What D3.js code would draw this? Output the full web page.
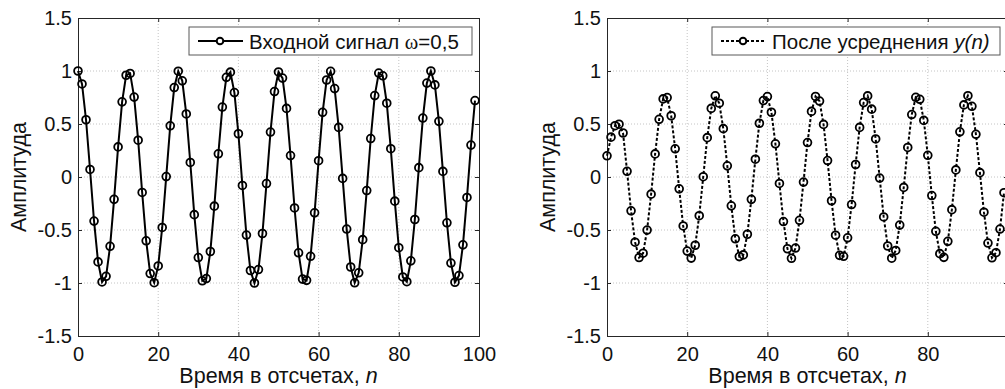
<!DOCTYPE html>
<html><head><meta charset="utf-8">
<script src="https://cdn.jsdelivr.net/npm/d3@7"></script>
<style>html,body{margin:0;padding:0;overflow:hidden;background:#fff}</style>
</head><body><svg id="chart" width="1005" height="389"></svg>
<script>
// Input signal x(n), n = 0..99
const inputSignal = [
 1.000, 0.878, 0.540, 0.071,-0.416,-0.801,-0.990,-0.937,-0.654,-0.211,
 0.284, 0.709, 0.960, 0.977, 0.754, 0.347,-0.146,-0.602,-0.911,-0.997,
-0.839,-0.476, 0.004, 0.483, 0.844, 0.998, 0.907, 0.595, 0.137,-0.355,
-0.760,-0.979,-0.958,-0.703,-0.275, 0.219, 0.660, 0.940, 0.989, 0.796,
 0.408,-0.080,-0.548,-0.882,-1.000,-0.873,-0.533,-0.062, 0.424, 0.806,
 0.991, 0.933, 0.647, 0.202,-0.292,-0.715,-0.963,-0.975,-0.748,-0.338,
 0.154, 0.610, 0.915, 0.997, 0.834, 0.468,-0.013,-0.491,-0.849,-0.998,
-0.904,-0.591,-0.128, 0.363, 0.768, 0.980, 0.955, 0.696, 0.267,-0.228,
-0.667,-0.943,-0.988,-0.791,-0.401, 0.088, 0.556, 0.886, 1.000, 0.869,
 0.525, 0.053,-0.432,-0.812,-0.993,-0.930,-0.640,-0.193, 0.301, 0.721
];
// Averaged output y(n), n = 0..99
const averagedSignal = [
 0.200, 0.376, 0.484, 0.498, 0.415, 0.054,-0.319,-0.615,-0.760,-0.719,
-0.501,-0.162, 0.218, 0.544, 0.737, 0.749, 0.578, 0.266,-0.112,-0.462,
-0.699,-0.765,-0.644,-0.365, 0.003, 0.371, 0.647, 0.766, 0.696, 0.456,
 0.105,-0.272,-0.583,-0.751,-0.735,-0.540,-0.211, 0.168, 0.507, 0.721,
 0.759, 0.611, 0.313,-0.061,-0.420,-0.677,-0.767,-0.670,-0.409,-0.048,
 0.325, 0.619, 0.760, 0.716, 0.496, 0.155,-0.224,-0.549,-0.739,-0.748,
-0.574,-0.260, 0.118, 0.468, 0.702, 0.765, 0.640, 0.359,-0.010,-0.377,
-0.651,-0.766,-0.693,-0.454,-0.098, 0.279, 0.589, 0.752, 0.733, 0.534,
 0.205,-0.175,-0.512,-0.723,-0.758,-0.607,-0.308, 0.067, 0.426, 0.680,
 0.767, 0.667, 0.403, 0.041,-0.332,-0.623,-0.762,-0.714,-0.491,-0.148
];
const xTicks = [0, 20, 40, 60, 80, 100];
const xTickLabelsLeft = ["0", "20", "40", "60", "80", "100"];
const xTickLabelsRight = ["0", "20", "40", "60", "80", ""];
const yTicks = [-1.5, -1, -0.5, 0, 0.5, 1, 1.5];
const yTickLabels = ["-1.5", "-1", "-0.5", "0", "0.5", "1", "1.5"];
const xLabelText = "Время в отсчетах, ";
const xLabelVar = "n";
const yLabelText = "Амплитуда";
const legend1Text = "Входной сигнал ";
const legend1Omega = "ω";
const legend1Value = "=0,5";
const legend2Text = "После усреднения ";
const legend2Var = "y(n)";

const svg = d3.select("#chart");
const FONT = "'Liberation Sans', Arial, sans-serif";
const FS = 20, FS_LABEL = 21.5, FS_LEG = 20.5;
const plotTop = 18, plotH = 318, plotW = 401;

function panel(left, data, dashed, xLabels, legendBox, legendBuild) {
  const g = svg.append("g");
  const x = d3.scaleLinear().domain([0, 100]).range([left, left + plotW]);
  const y = d3.scaleLinear().domain([-1.5, 1.5]).range([plotTop + plotH, plotTop]);

  // grid
  g.append("g").selectAll("line").data(xTicks.slice(1, -1)).join("line")
    .attr("x1", d => x(d)).attr("x2", d => x(d)).attr("y1", plotTop).attr("y2", plotTop + plotH)
    .attr("stroke", "#c4c4c4").attr("stroke-width", 1).attr("stroke-dasharray", "1,2");
  g.append("g").selectAll("line").data(yTicks.slice(1, -1)).join("line")
    .attr("y1", d => y(d)).attr("y2", d => y(d)).attr("x1", left).attr("x2", left + plotW)
    .attr("stroke", "#c4c4c4").attr("stroke-width", 1).attr("stroke-dasharray", "1,2");

  // axes
  const axB = d3.axisBottom(x).tickValues(xTicks).tickSize(-4).tickPadding(11)
    .tickFormat((d, i) => xLabels[i]);
  const axT = d3.axisTop(x).tickValues(xTicks).tickSize(-4).tickFormat("");
  const axL = d3.axisLeft(y).tickValues(yTicks).tickSize(-4).tickPadding(6)
    .tickFormat((d, i) => yTickLabels[i]);
  const axR = d3.axisRight(y).tickValues(yTicks).tickSize(-4).tickFormat("");
  [[axB, `translate(0,${plotTop + plotH})`], [axT, `translate(0,${plotTop})`],
   [axL, `translate(${left},0)`], [axR, `translate(${left + plotW},0)`]].forEach(([ax, tr]) => {
    const a = g.append("g").attr("transform", tr).call(ax);
    a.select(".domain").attr("stroke", "#262626").attr("stroke-width", 1);
    a.selectAll(".tick line").attr("stroke", "#262626");
    a.selectAll("text").attr("font-family", FONT).attr("font-size", FS).attr("fill", "#111");
  });

  const line = d3.line().x((d, i) => x(i)).y(d => y(d));
  g.append("path").datum(data).attr("d", line).attr("fill", "none")
    .attr("stroke", "#000").attr("stroke-width", 2)
    .attr("stroke-dasharray", dashed ? "3,2" : null);
  g.append("g").selectAll("circle").data(data).join("circle")
    .attr("cx", (d, i) => x(i)).attr("cy", d => y(d)).attr("r", 3.9)
    .attr("fill", "none").attr("stroke", "#000").attr("stroke-width", 1.8);

  // labels
  const xl = g.append("text").attr("x", left + plotW / 2).attr("y", 383)
    .attr("text-anchor", "middle").attr("font-family", FONT).attr("font-size", FS_LABEL).attr("fill", "#111");
  xl.append("tspan").text(xLabelText);
  xl.append("tspan").attr("font-style", "italic").text(xLabelVar);
  g.append("text").attr("transform", `translate(${left - 52},${plotTop + plotH / 2}) rotate(-90)`)
    .attr("text-anchor", "middle").attr("font-family", FONT).attr("font-size", FS_LABEL).attr("fill", "#111")
    .text(yLabelText);

  // legend
  const lg = g.append("g");
  lg.append("rect").attr("x", legendBox.x).attr("y", legendBox.y).attr("width", legendBox.w).attr("height", legendBox.h)
    .attr("fill", "#fff").attr("stroke", "#595959").attr("stroke-width", 1);
  const cy = legendBox.y + legendBox.h / 2;
  lg.append("line").attr("x1", legendBox.x + 9).attr("x2", legendBox.x + 54).attr("y1", cy).attr("y2", cy)
    .attr("stroke", "#000").attr("stroke-width", 2).attr("stroke-dasharray", dashed ? "3,2" : null);
  lg.append("circle").attr("cx", legendBox.x + 31).attr("cy", cy).attr("r", 3.3)
    .attr("fill", "#fff").attr("stroke", "#000").attr("stroke-width", 2);
  const t = lg.append("text").attr("x", legendBox.x + 60).attr("y", cy + 8)
    .attr("font-family", FONT).attr("font-size", FS_LEG).attr("fill", "#111");
  legendBuild(t);
}

panel(78, inputSignal, false, xTickLabelsLeft, {x: 189, y: 27, w: 283, h: 28}, t => {
  t.append("tspan").text(legend1Text);
  t.append("tspan").attr("font-family", "'Liberation Serif', 'Times New Roman', serif").text(legend1Omega);
  t.append("tspan").text(legend1Value);
});
panel(607, averagedSignal, true, xTickLabelsRight, {x: 712, y: 27, w: 288, h: 28}, t => {
  t.append("tspan").text(legend2Text);
  t.append("tspan").attr("font-style", "italic").text(legend2Var);
});
</script></body></html>
